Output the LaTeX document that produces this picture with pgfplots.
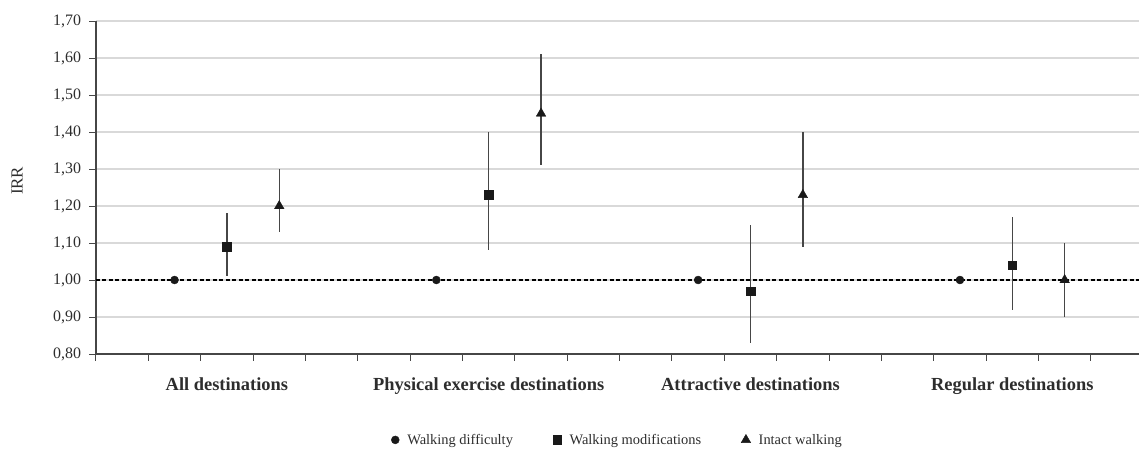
\documentclass[border=0pt]{standalone}
\usepackage{pgfplots}
\pgfplotsset{compat=1.18}
\usepackage{fontspec}
\setmainfont{Liberation Serif}
\definecolor{gridgray}{RGB}{217,217,217}
\definecolor{axisgray}{RGB}{70,70,70}
\definecolor{errgray}{RGB}{70,70,70}
\definecolor{markblack}{RGB}{25,25,25}
\definecolor{textgray}{RGB}{45,45,45}
\begin{document}
\begin{tikzpicture}
\begin{axis}[
  at={(0,0)}, anchor=south west,
  scale only axis, width=1043bp, height=333bp,
  xmin=0, xmax=19.92, ymin=0.8, ymax=1.7,
  axis x line*=bottom, axis y line*=left,
  axis line style={-, axisgray, line width=1.4bp},
  xtick={0,1,...,19}, xticklabels={},
  ytick={0.8,0.9,1.0,1.1,1.2,1.3,1.4,1.5,1.6,1.7},
  tick align=outside, major tick length=6.5bp,
  tick style={axisgray, line width=1bp},
  ymajorgrids, grid style={gridgray, line width=1.2bp},
  /pgf/number format/assume math mode=true,
  yticklabel style={/pgf/number format/.cd, use comma, fixed, fixed zerofill, precision=2, /tikz/.cd, font=\fontsize{16}{16}\selectfont, text=textgray, xshift=-5bp},
  extra x ticks={2.5,7.5,12.5,17.5},
  extra x tick labels={All destinations, Physical exercise destinations, Attractive destinations, Regular destinations},
  extra x tick style={major tick length=0pt, tick style={draw=none}, tick label style={font=\fontsize{18.5}{18.5}\selectfont\bfseries, text=textgray, yshift=-20bp}},
  ylabel={IRR},
  ylabel style={at={(rel axis cs:-0.0757,0.52)}, anchor=center, font=\fontsize{17}{17}\selectfont, text=textgray},
  legend columns=3,
  legend cell align=left,
  legend style={draw=none, fill=none, at={(0.5,-0.258)}, anchor=center, font=\fontsize{14.5}{14.5}\selectfont, text=textgray,
    /tikz/every odd column/.append style={column sep=6bp},
    /tikz/every even column/.append style={column sep=38bp}},
  clip=false,
]
\addplot[forget plot, black, dash pattern=on 4bp off 2.5bp, line width=1.1bp] coordinates {(0,1) (19.92,1)};

\addplot[only marks, mark=*, mark size=4bp, color=markblack] table {
x y
1.5 1.00
6.5 1.00
11.5 1.00
16.5 1.00
};
\addlegendentry{Walking difficulty}

\addplot[only marks, mark=square*, mark size=4.3bp, color=markblack,
  error bars/.cd, y dir=both, y explicit, error mark=none,
  error bar style={errgray, line width=1.5bp}]
  table[x=x, y=y, y error plus=ep, y error minus=em] {
x y ep em
2.5 1.09 0.09 0.08
7.5 1.23 0.17 0.15
12.5 0.97 0.18 0.14
17.5 1.04 0.13 0.12
};
\addlegendentry{Walking modifications}

\addplot[only marks, mark=triangle*, mark size=5.5bp, color=markblack,
  error bars/.cd, y dir=both, y explicit, error mark=none,
  error bar style={errgray, line width=1.5bp}]
  table[x=x, y=y, y error plus=ep, y error minus=em] {
x y ep em
3.5 1.20 0.10 0.07
8.5 1.45 0.16 0.14
13.5 1.23 0.17 0.14
18.5 1.00 0.10 0.10
};
\addlegendentry{Intact walking}
\end{axis}
\pgfresetboundingbox
\path[use as bounding box] (-96bp,-96bp) rectangle (1043bp,354bp);
\end{tikzpicture}
\end{document}
